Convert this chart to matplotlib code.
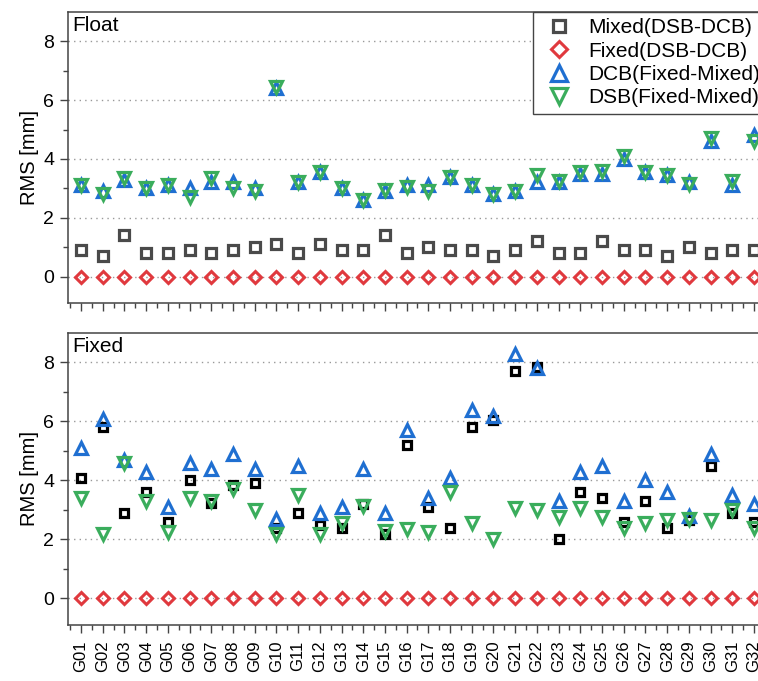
import matplotlib
matplotlib.use("Agg")
import matplotlib.pyplot as plt
from matplotlib.ticker import FixedLocator

plt.rcParams['font.family'] = ['Liberation Sans', 'DejaVu Sans']

sats = ["G%02d" % i for i in range(1, 33)]

# Float panel
float_mixed = [0.9, 0.7, 1.4, 0.8, 0.8, 0.9, 0.8, 0.9, 1.0, 1.1, 0.8, 1.1, 0.9, 0.9, 1.4, 0.8,
               1.0, 0.9, 0.9, 0.7, 0.9, 1.2, 0.8, 0.8, 1.2, 0.9, 0.9, 0.7, 1.0, 0.8, 0.9, 0.9]
float_fixed = [0.0] * 32
float_dcb = [3.1, 2.9, 3.3, 3.0, 3.1, 3.0, 3.2, 3.2, 3.0, 6.4, 3.2, 3.55, 3.0, 2.6, 2.9, 3.1,
             3.1, 3.4, 3.1, 2.8, 2.9, 3.2, 3.2, 3.5, 3.5, 4.0, 3.55, 3.45, 3.2, 4.6, 3.1, 4.8]
float_dsb = [3.1, 2.8, 3.35, 3.0, 3.1, 2.7, 3.35, 3.0, 2.9, 6.45, 3.2, 3.55, 3.0, 2.6, 2.95, 3.05,
             2.9, 3.4, 3.1, 2.8, 2.9, 3.45, 3.25, 3.55, 3.6, 4.1, 3.55, 3.45, 3.15, 4.7, 3.25, 4.6]

# Fixed panel
fixed_mixed = [4.1, 5.8, 2.9, 3.6, 2.6, 4.0, 3.25, 3.85, 3.9, 2.4, 2.9, 2.5, 2.4, 3.2, 2.2, 5.2,
               3.1, 2.4, 5.8, 6.05, 7.7, 7.85, 2.0, 3.6, 3.4, 2.6, 3.3, 2.4, 2.65, 4.5, 2.9, 2.6]
fixed_fixed = [0.0] * 32
fixed_dcb = [5.1, 6.1, 4.7, 4.3, 3.1, 4.6, 4.4, 4.9, 4.4, 2.7, 4.5, 2.9, 3.1, 4.4, 2.9, 5.7,
             3.4, 4.1, 6.4, 6.2, 8.3, 7.8, 3.3, 4.3, 4.5, 3.3, 4.0, 3.6, 2.8, 4.9, 3.5, 3.2]
fixed_dsb = [3.4, 2.2, 4.6, 3.3, 2.25, 3.4, 3.3, 3.7, 3.0, 2.2, 3.5, 2.2, 2.55, 3.15, 2.3, 2.35,
             2.25, 3.6, 2.55, 2.0, 3.05, 3.0, 2.75, 3.05, 2.75, 2.4, 2.55, 2.65, 2.7, 2.65, 3.0, 2.4]

labels = ["Mixed(DSB-DCB)", "Fixed(DSB-DCB)", "DCB(Fixed-Mixed)", "DSB(Fixed-Mixed)"]

C_GRAY = '#4a4a4a'
C_RED = '#e0393e'
C_BLUE = '#1f6fd1'
C_GREEN = '#3aad5c'

W, H = 758, 681
fig = plt.figure(figsize=(W / 100, H / 100), dpi=100)
left = 68 / W
width = 699 / W
ax1 = fig.add_axes([left, 1 - 303 / H, width, 291 / H])
ax2 = fig.add_axes([left, 1 - 625 / H, width, 292 / H])

x = list(range(1, 33))


def style(ax, title):
    ax.set_xlim(0.4, 32.6)
    ax.set_ylim(-0.9, 9.0)
    ax.yaxis.set_major_locator(FixedLocator([0, 2, 4, 6, 8]))
    ax.yaxis.set_minor_locator(FixedLocator([1, 3, 5, 7]))
    ax.xaxis.set_major_locator(FixedLocator(x))
    ax.xaxis.set_minor_locator(FixedLocator([v + 0.5 for v in range(0, 33)]))
    ax.grid(axis='y', which='major', linestyle=(0, (1, 3)), color='#999999', linewidth=1.0)
    ax.set_axisbelow(True)
    ax.tick_params(axis='both', which='major', direction='out', length=6, width=1.0,
                   color='#444444', top=False, right=False)
    ax.tick_params(axis='both', which='minor', direction='out', length=3.5, width=1.0,
                   color='#444444', top=False, right=False)
    ax.tick_params(axis='y', labelsize=14, pad=4)
    for s in ax.spines.values():
        s.set_color('#444444')
        s.set_linewidth(1.1)
    ax.set_ylabel("RMS [mm]", fontsize=14.5, labelpad=3)
    ax.text(0.006, 0.985, title, transform=ax.transAxes, ha='left', va='top', fontsize=15)


def plot_panel(ax, mixed, fixed, dcb, dsb, sqcolor, sqms):
    h1, = ax.plot(x, mixed, linestyle='none', marker='s', ms=sqms, mfc='none', mec=sqcolor,
                  mew=2.3, label=labels[0], zorder=3)
    h2, = ax.plot(x, fixed, linestyle='none', marker='D', ms=6.5, mfc='none', mec=C_RED,
                  mew=2.2, label=labels[1], zorder=3)
    h3, = ax.plot(x, dcb, linestyle='none', marker='^', ms=9, mfc='none', mec=C_BLUE,
                  mew=2.3, label=labels[2], zorder=4)
    h4, = ax.plot(x, dsb, linestyle='none', marker='v', ms=9, mfc='none', mec=C_GREEN,
                  mew=2.3, label=labels[3], zorder=5)
    return [h1, h2, h3, h4]


handles = plot_panel(ax1, float_mixed, float_fixed, float_dcb, float_dsb, C_GRAY, 6.5)
plot_panel(ax2, fixed_mixed, fixed_fixed, fixed_dcb, fixed_dsb, 'black', 6.0)

style(ax1, "Float")
style(ax2, "Fixed")

ax1.tick_params(axis='x', labelbottom=False)
ax2.set_xticks(x)
ax2.set_xticklabels(sats, rotation=90, fontsize=12)
ax2.tick_params(axis='x', pad=5)

leg = ax1.legend(handles=handles, loc='upper left', bbox_to_anchor=((533 - 68) / 699, 1.0),
                 borderaxespad=0, fontsize=15, frameon=True, fancybox=False, framealpha=1,
                 edgecolor='#444444', numpoints=1, markerscale=1.25, labelspacing=0.21,
                 handletextpad=0.45, borderpad=0.3, handlelength=1.9)
leg.get_frame().set_linewidth(1.0)
leg.set_zorder(10)

fig.savefig("out.png", dpi=100)
